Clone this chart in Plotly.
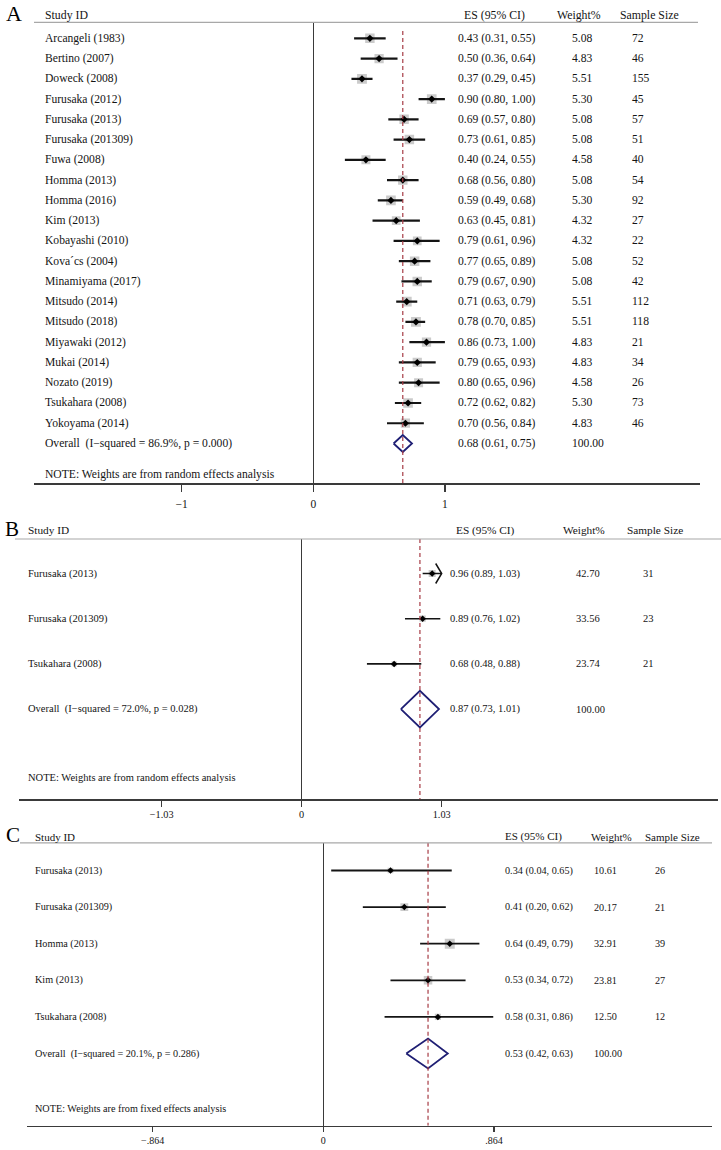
import math
import plotly.graph_objects as go

# ---------------- data ----------------
a_studies = ["Arcangeli (1983)", "Bertino (2007)", "Doweck (2008)", "Furusaka (2012)",
             "Furusaka (2013)", "Furusaka (201309)", "Fuwa (2008)", "Homma (2013)",
             "Homma (2016)", "Kim (2013)", "Kobayashi (2010)", "Kova\u00b4cs (2004)",
             "Minamiyama (2017)", "Mitsudo (2014)", "Mitsudo (2018)", "Miyawaki (2012)",
             "Mukai (2014)", "Nozato (2019)", "Tsukahara (2008)", "Yokoyama (2014)"]
a_es = [0.43, 0.50, 0.37, 0.90, 0.69, 0.73, 0.40, 0.68, 0.59, 0.63,
        0.79, 0.77, 0.79, 0.71, 0.78, 0.86, 0.79, 0.80, 0.72, 0.70]
a_lo = [0.31, 0.36, 0.29, 0.80, 0.57, 0.61, 0.24, 0.56, 0.49, 0.45,
        0.61, 0.65, 0.67, 0.63, 0.70, 0.73, 0.65, 0.65, 0.62, 0.56]
a_hi = [0.55, 0.64, 0.45, 1.00, 0.80, 0.85, 0.55, 0.80, 0.68, 0.81,
        0.96, 0.89, 0.90, 0.79, 0.85, 1.00, 0.93, 0.96, 0.82, 0.84]
a_weight = [5.08, 4.83, 5.51, 5.30, 5.08, 5.08, 4.58, 5.08, 5.30, 4.32,
            4.32, 5.08, 5.08, 5.51, 5.51, 4.83, 4.83, 4.58, 5.30, 4.83]
a_n = [72, 46, 155, 45, 57, 51, 40, 54, 92, 27, 22, 52, 42, 112, 118, 21, 34, 26, 73, 46]
a_ci_clipped = [False] * 20
a_overall = [0.68, 0.61, 0.75]
a_overall_weight = 100.00
a_overall_label = "Overall\u00a0 (I\u2212squared = 86.9%, p = 0.000)"
a_note = "NOTE: Weights are from random effects analysis"
a_ticks = [-1, 0, 1]
a_ticklabels = ["\u22121", "0", "1"]

b_studies = ["Furusaka (2013)", "Furusaka (201309)", "Tsukahara (2008)"]
b_es = [0.96, 0.89, 0.68]
b_lo = [0.89, 0.76, 0.48]
b_hi = [1.03, 1.02, 0.88]
b_weight = [42.70, 33.56, 23.74]
b_n = [31, 23, 21]
b_ci_clipped = [True, False, False]
b_overall = [0.87, 0.73, 1.01]
b_overall_weight = 100.00
b_overall_label = "Overall\u00a0 (I\u2212squared = 72.0%, p = 0.028)"
b_note = "NOTE: Weights are from random effects analysis"
b_ticks = [-1.03, 0, 1.03]
b_ticklabels = ["\u22121.03", "0", "1.03"]

c_studies = ["Furusaka (2013)", "Furusaka (201309)", "Homma (2013)", "Kim (2013)", "Tsukahara (2008)"]
c_es = [0.34, 0.41, 0.64, 0.53, 0.58]
c_lo = [0.04, 0.20, 0.49, 0.34, 0.31]
c_hi = [0.65, 0.62, 0.79, 0.72, 0.86]
c_weight = [10.61, 20.17, 32.91, 23.81, 12.50]
c_n = [26, 21, 39, 27, 12]
c_ci_clipped = [False] * 5
c_overall = [0.53, 0.42, 0.63]
c_overall_weight = 100.00
c_overall_label = "Overall\u00a0 (I\u2212squared = 20.1%, p = 0.286)"
c_note = "NOTE: Weights are from fixed effects analysis"
c_ticks = [-0.864, 0, 0.864]
c_ticklabels = ["\u2212.864", "0", ".864"]

headers = ["Study ID", "ES (95% CI)", "Weight%", "Sample Size"]
panel_letters = ["A", "B", "C"]

# ---------------- layout / style ----------------
W, H = 721, 1150
FONT = "Liberation Serif"
INK = "#141414"
AXC = "#3a3a3a"
BOX = "#b5b5b5"
NAVY = "#1f1f74"
RED = "#a63a44"

panels = [
    dict(studies=a_studies, es=a_es, lo=a_lo, hi=a_hi, w=a_weight, n=a_n, clip=a_ci_clipped,
         overall=a_overall, ow=a_overall_weight, olabel=a_overall_label, note=a_note,
         ticks=a_ticks, ticklabels=a_ticklabels, letter=panel_letters[0]),
    dict(studies=b_studies, es=b_es, lo=b_lo, hi=b_hi, w=b_weight, n=b_n, clip=b_ci_clipped,
         overall=b_overall, ow=b_overall_weight, olabel=b_overall_label, note=b_note,
         ticks=b_ticks, ticklabels=b_ticklabels, letter=panel_letters[1]),
    dict(studies=c_studies, es=c_es, lo=c_lo, hi=c_hi, w=c_weight, n=c_n, clip=c_ci_clipped,
         overall=c_overall, ow=c_overall_weight, olabel=c_overall_label, note=c_note,
         ticks=c_ticks, ticklabels=c_ticklabels, letter=panel_letters[2]),
]

styles = [
    dict(xdom=(34, 700), zero=313.3, unit=131.6, header=22.3, axis=483.3, row0=38.3, step=20.26,
         note_px=474.3, dash_top_px=31, dia_h=8.5, box_k=4.2, pt=5.5, ci_w=2.2,
         font=11.6, hfont=11.8, tfont=11.5, ticklen=7, standoff=2,
         name_x=43.3, es_x=455.7, w_x=569.5, n_x=630,
         head_y=14.5, head_x=(43.3, 462.3, 555, 618.3), letter_xy=(4, 14), letter_size=22,
         hline=(34, 698)),
    dict(xdom=(19.3, 718), zero=301.7, unit=135.9, header=539, axis=799.3, row0=573.5, step=45.2,
         note_px=777.3, dash_top_px=539, dia_h=18.3, box_k=1.07, pt=5, ci_w=1.6,
         font=10.5, hfont=11.3, tfont=10.3, ticklen=6, standoff=-1,
         name_x=26, es_x=448.3, w_x=574.3, n_x=641,
         head_y=530, head_x=(26, 454, 561, 625), letter_xy=(3, 529), letter_size=21,
         hline=(15, 721)),
    dict(xdom=(26.7, 712), zero=323.3, unit=197.6, header=842.8, axis=1125.7, row0=870.5, step=36.6,
         note_px=1108, dash_top_px=842.8, dia_h=15, box_k=1.74, pt=5, ci_w=1.8,
         font=10.2, hfont=11, tfont=10, ticklen=5, standoff=0,
         name_x=33.3, es_x=502.5, w_x=592, n_x=653,
         head_y=836.5, head_x=(33.3, 503, 588.5, 643), letter_xy=(4, 835), letter_size=21,
         hline=(20, 712)),
]


def fx(px):
    return px / W


def fy(py):
    return 1 - py / H


fig = go.Figure()
annotations = []
shapes = []
layout_axes = {}

for k, (d, s) in enumerate(zip(panels, styles), start=1):
    xa = "x" if k == 1 else f"x{k}"
    ya = "y" if k == 1 else f"y{k}"
    xname = "xaxis" if k == 1 else f"xaxis{k}"
    yname = "yaxis" if k == 1 else f"yaxis{k}"
    nrow = len(d["studies"])
    rows = list(range(nrow))
    orow = nrow

    def to_row(py, s=s):
        return (py - s["row0"]) / s["step"]

    # weight boxes (area proportional to weight)
    fig.add_trace(go.Scatter(
        x=d["es"], y=rows, mode="markers", xaxis=xa, yaxis=ya,
        marker=dict(symbol="square", color=BOX, line=dict(width=0),
                    size=[s["box_k"] * math.sqrt(wv) for wv in d["w"]]),
        hoverinfo="skip", showlegend=False))

    # CI lines
    xs, ys = [], []
    for i in rows:
        xs += [d["lo"][i], d["hi"][i], None]
        ys += [i, i, None]
    fig.add_trace(go.Scatter(
        x=xs, y=ys, mode="lines", xaxis=xa, yaxis=ya,
        line=dict(color=INK, width=s["ci_w"]), hoverinfo="skip", showlegend=False))

    # arrows where the CI runs past the plotted range
    ax_x, ax_y = [], []
    dx = 6 / s["unit"]
    dy = 10 / s["step"]
    for i in rows:
        if d["clip"][i]:
            ax_x += [d["hi"][i] - dx, d["hi"][i], d["hi"][i] - dx, None]
            ax_y += [i - dy, i, i + dy, None]
    if ax_x:
        fig.add_trace(go.Scatter(
            x=ax_x, y=ax_y, mode="lines", xaxis=xa, yaxis=ya,
            line=dict(color=INK, width=1.5), hoverinfo="skip", showlegend=False))

    # point estimates
    fig.add_trace(go.Scatter(
        x=d["es"], y=rows, mode="markers", xaxis=xa, yaxis=ya,
        marker=dict(symbol="diamond", color="#000000", size=s["pt"], line=dict(width=0)),
        hoverinfo="skip", showlegend=False))

    # overall diamond
    oes, olo, ohi = d["overall"]
    h = s["dia_h"] / s["step"]
    fig.add_trace(go.Scatter(
        x=[olo, oes, ohi, oes, olo], y=[orow, orow - h, orow, orow + h, orow],
        mode="lines", xaxis=xa, yaxis=ya,
        line=dict(color=NAVY, width=1.8), hoverinfo="skip", showlegend=False))

    # dashed overall-effect line
    shapes.append(dict(type="line", xref=xa, yref=ya, x0=oes, x1=oes,
                       y0=to_row(s["dash_top_px"]), y1=to_row(s["axis"]),
                       line=dict(color=RED, width=1.2, dash="4px,3px"), layer="above"))

    # header rule
    shapes.append(dict(type="line", xref="paper", yref="paper",
                       x0=fx(s["hline"][0]), x1=fx(s["hline"][1]),
                       y0=fy(s["header"]), y1=fy(s["header"]),
                       line=dict(color="#a8a8a8", width=1.2)))

    # axes
    layout_axes[xname] = dict(
        domain=[fx(s["xdom"][0]), fx(s["xdom"][1])],
        range=[(s["xdom"][0] - s["zero"]) / s["unit"], (s["xdom"][1] - s["zero"]) / s["unit"]],
        anchor=ya, tickmode="array", tickvals=d["ticks"], ticktext=d["ticklabels"],
        ticks="outside", ticklen=s["ticklen"], tickwidth=1.3, tickcolor=AXC,
        ticklabelstandoff=s["standoff"],
        showline=True, linecolor=AXC, linewidth=1.5,
        zeroline=True, zerolinecolor=AXC, zerolinewidth=1.5,
        showgrid=False, fixedrange=True,
        tickfont=dict(family=FONT, size=s["tfont"], color=INK))
    layout_axes[yname] = dict(
        domain=[fy(s["axis"]), fy(s["header"])],
        range=[to_row(s["axis"]), to_row(s["header"])],
        anchor=xa, visible=False, showgrid=False, zeroline=False, fixedrange=True)

    def txt(x_px, yv, text, size, yref=ya):
        annotations.append(dict(x=fx(x_px), y=yv, xref="paper", yref=yref, text=text,
                                showarrow=False, xanchor="left", yanchor="middle",
                                font=dict(family=FONT, size=size, color=INK)))

    for i in rows:
        txt(s["name_x"], i, d["studies"][i], s["font"])
        txt(s["es_x"], i, f"{d['es'][i]:.2f} ({d['lo'][i]:.2f}, {d['hi'][i]:.2f})", s["font"])
        txt(s["w_x"], i, f"{d['w'][i]:.2f}", s["font"])
        txt(s["n_x"], i, f"{d['n'][i]}", s["font"])
    txt(s["name_x"], orow, d["olabel"], s["font"])
    txt(s["es_x"], orow, f"{oes:.2f} ({olo:.2f}, {ohi:.2f})", s["font"])
    txt(s["w_x"], orow, f"{d['ow']:.2f}", s["font"])
    txt(s["name_x"], to_row(s["note_px"]), d["note"], s["font"])

    # column headers and panel letter
    for hx, ht in zip(s["head_x"], headers):
        txt(hx, fy(s["head_y"]), ht, s["hfont"], yref="paper")
    annotations.append(dict(x=fx(s["letter_xy"][0]), y=fy(s["letter_xy"][1]), xref="paper",
                            yref="paper", text=d["letter"], showarrow=False,
                            xanchor="left", yanchor="middle",
                            font=dict(family=FONT, size=s["letter_size"], color="#000000")))

fig.update_layout(
    width=W, height=H, margin=dict(l=0, r=0, t=0, b=0),
    paper_bgcolor="white", plot_bgcolor="white",
    font=dict(family=FONT, color=INK),
    showlegend=False, annotations=annotations, shapes=shapes,
    **layout_axes)

fig.write_html("out.html", config={"displayModeBar": False, "staticPlot": True},
               post_script="document.body.style.margin='0';document.body.style.overflow='hidden';")
